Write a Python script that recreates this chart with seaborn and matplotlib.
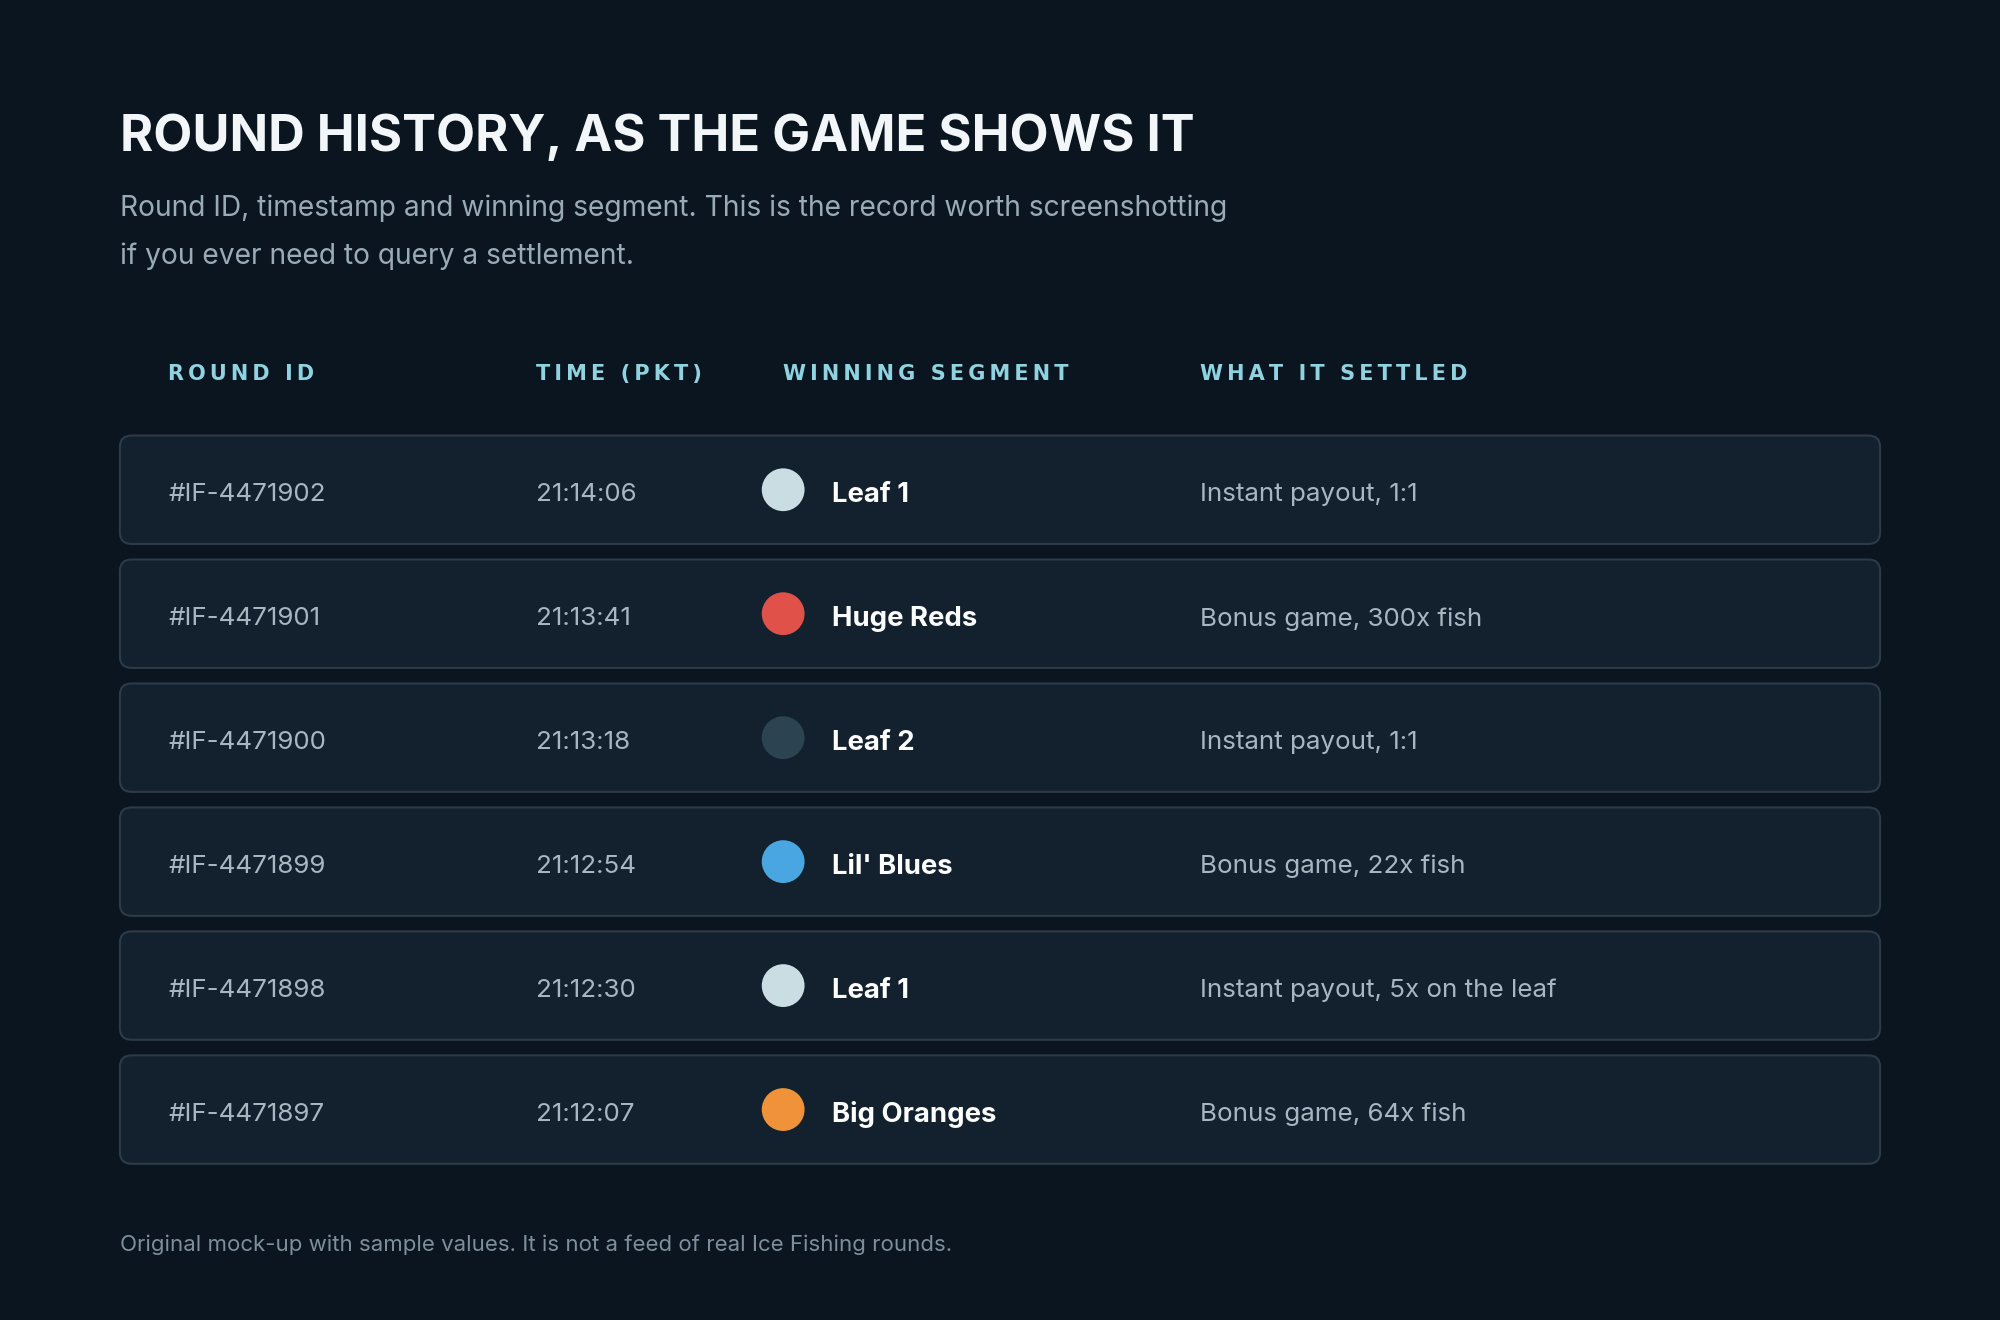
import matplotlib
matplotlib.use("Agg")
import matplotlib.pyplot as plt
from matplotlib.patches import FancyBboxPatch
import seaborn as sns
import pandas as pd

round_ids = ["#IF-4471902", "#IF-4471901", "#IF-4471900", "#IF-4471899", "#IF-4471898", "#IF-4471897"]
times = ["21:14:06", "21:13:41", "21:13:18", "21:12:54", "21:12:30", "21:12:07"]
segments = ["Leaf 1", "Huge Reds", "Leaf 2", "Lil' Blues", "Leaf 1", "Big Oranges"]
settled = ["Instant payout, 1:1", "Bonus game, 300x fish", "Instant payout, 1:1",
           "Bonus game, 22x fish", "Instant payout, 5x on the leaf", "Bonus game, 64x fish"]
seg_colors = {"Leaf 1": "#c9dde3", "Huge Reds": "#e0514a", "Leaf 2": "#2c4452",
              "Lil' Blues": "#4aa6e0", "Big Oranges": "#f0923a"}
headers = ["ROUND ID", "TIME (PKT)", "WINNING SEGMENT", "WHAT IT SETTLED"]

sns.set_theme(style="white")
plt.rcParams['font.family'] = ['Inter', 'DejaVu Sans']

BG = "#0a1520"
fig = plt.figure(figsize=(20, 13.2), dpi=100, facecolor=BG)
ax = fig.add_axes([0, 0, 1, 1])
ax.set_facecolor(BG)
ax.set_xlim(0, 1568)
ax.set_ylim(1035, 0)
ax.axis("off")

ax.text(94, 108, "ROUND HISTORY, AS THE GAME SHOWS IT", color="#f2f6f8",
        fontsize=36.5, fontweight="bold", va="center", ha="left")
ax.text(94, 163, "Round ID, timestamp and winning segment. This is the record worth screenshotting",
        color="#9aabb6", fontsize=20.3, va="center")
ax.text(94, 201, "if you ever need to query a settlement.", color="#9aabb6", fontsize=20.3, va="center")

hx = [132, 420, 614, 941]
for x, h in zip(hx, headers):
    ax.text(x, 293, "\u2009".join(h), color="#8fd3e0", fontsize=15,
            fontweight="bold", va="center", family=['DejaVu Sans'])

df = pd.DataFrame({"id": round_ids, "time": times, "seg": segments, "set": settled})
df["y"] = [384 + 97.2 * i for i in range(len(df))]
df["x"] = 614

for _, r in df.iterrows():
    ax.add_patch(FancyBboxPatch((94, r.y - 42.5), 1380, 85,
                                boxstyle="round,pad=0,rounding_size=9",
                                facecolor="#12212d", edgecolor="#2b3b48", linewidth=1.5))
    ax.text(132, r.y + 4, r.id, color="#a7b6c0", fontsize=18.7, va="center")
    ax.text(420, r.y + 4, r.time, color="#a7b6c0", fontsize=18.7, va="center")
    ax.text(652, r.y + 4, r.seg, color="#ffffff", fontsize=19.8, fontweight="bold", va="center")
    ax.text(941, r.y + 4, r.set, color="#a7b6c0", fontsize=18.7, va="center")

sns.scatterplot(data=df, x="x", y="y", hue="seg", palette=seg_colors, s=950,
                edgecolor="none", legend=False, ax=ax, zorder=5)
ax.set_xlim(0, 1568)
ax.set_ylim(1035, 0)
ax.axis("off")

ax.text(94, 976, "Original mock-up with sample values. It is not a feed of real Ice Fishing rounds.",
        color="#7e8f9a", fontsize=16, va="center")

fig.savefig("out.png", dpi=100, facecolor=BG)
